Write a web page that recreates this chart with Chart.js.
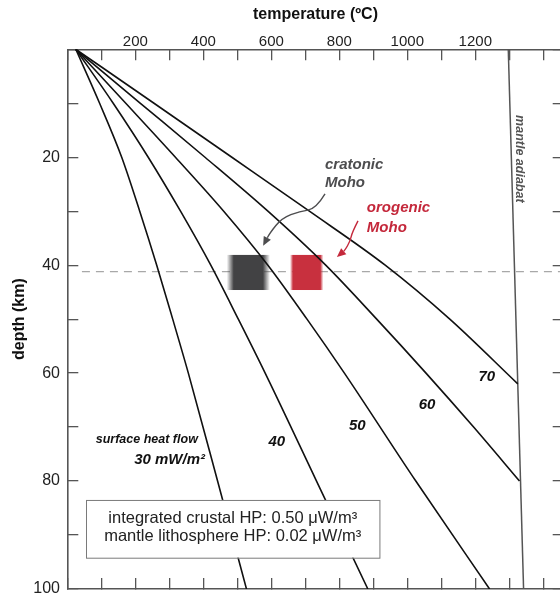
<!DOCTYPE html>
<html>
<head>
<meta charset="utf-8">
<script src="https://cdn.jsdelivr.net/npm/chart.js@4.4.1/dist/chart.umd.min.js"></script>
<style>
  html, body { margin: 0; padding: 0; background: #fff; overflow: hidden; width: 560px; height: 594px; }
  #wrap { position: absolute; left: 0; top: 0; width: 600px; height: 594px; }
</style>
</head>
<body>
<div id="wrap"><canvas id="c" width="600" height="594"></canvas></div>
<script>
// ---------------- data ----------------
const depthKm   = [0, 10, 20, 30, 40, 50, 60, 80, 100];
const hf30      = [25, 95, 160, 213, 263, 310, 356, 442, 527];
const hf40      = [25, 135, 238, 333, 422, 503, 582, 733, 884];
const hf50      = [25, 172, 318, 460, 590, 705, 815, 1025, 1242];
const hf60Depth = [0, 10, 20, 30, 40, 50, 60, 70, 80];
const hf60      = [25, 215, 405, 590, 760, 910, 1055, 1195, 1330];
const hf70Depth = [0, 10, 20, 30, 40, 50, 62];
const hf70      = [25, 255, 484, 712, 935, 1125, 1325];
const adiabatDepth = [0, 100];
const adiabatT     = [1297, 1342];

const tempTickLabels  = [200, 400, 600, 800, 1000, 1200];
const depthTickLabels = [20, 40, 60, 80, 100];

const mohoDepth = 41.2;
const cratonicMoho = [469, 596, 38.1, 44.6];   // Tmin, Tmax, dTop, dBottom
const orogenicMoho = [655, 753, 38.1, 44.6];

const curveLabels = [
  ['40', 616, 72.7], ['50', 853, 69.7], ['60', 1058, 65.8], ['70', 1234, 60.7]
];
const cratonicArrow = [[758, 26.8], [731, 29.6], [684, 30.0], [631, 31.3], [596, 34.0], [576, 36.4]];
const orogenicArrow = [[855, 31.8], [838, 33.9], [832, 35.5], [817, 37.2], [793, 38.5]];
const infoBox = [55, 918, 83.5, 94.2];
const infoLines = ['integrated crustal HP: 0.50 \u03BCW/m\u00B3', 'mantle lithosphere HP: 0.02 \u03BCW/m\u00B3'];

// ---------------- helpers ----------------
const FONT = '"Liberation Sans", Arial, sans-serif';
function toPts(ts, ds) { return ts.map((t, i) => ({ x: t, y: ds[i] })); }
function lineDs(ts, ds, color, w) {
  return { data: toPts(ts, ds), showLine: true, borderColor: color, borderWidth: w,
           pointRadius: 0, pointHoverRadius: 0, cubicInterpolationMode: 'monotone', fill: false };
}

const decor = {
  id: 'decor',
  beforeDatasetsDraw(chart) {
    const { ctx, chartArea: a } = chart;
    const X = v => chart.scales.x.getPixelForValue(v);
    const Y = v => chart.scales.y.getPixelForValue(v);
    ctx.save();
    ctx.beginPath(); ctx.rect(a.left, a.top, a.right - a.left, a.bottom - a.top); ctx.clip();
    // dashed Moho line
    ctx.strokeStyle = '#a8a8a8'; ctx.lineWidth = 1.2; ctx.setLineDash([8, 6]);
    ctx.beginPath(); ctx.moveTo(X(43), Y(mohoDepth)); ctx.lineTo(a.right, Y(mohoDepth)); ctx.stroke();
    ctx.setLineDash([]);
    // blurred boxes
    function fuzzyBox(b, rgb, fade) {
      const x0 = X(b[0]), x1 = X(b[1]), y0 = Y(b[2]), y1 = Y(b[3]);
      const g = ctx.createLinearGradient(x0, 0, x1, 0);
      const f = fade / (x1 - x0);
      g.addColorStop(0, 'rgba(' + rgb + ',0)');
      g.addColorStop(f, 'rgba(' + rgb + ',1)');
      g.addColorStop(1 - f, 'rgba(' + rgb + ',1)');
      g.addColorStop(1, 'rgba(' + rgb + ',0)');
      ctx.fillStyle = g; ctx.fillRect(x0, y0, x1 - x0, y1 - y0);
    }
    fuzzyBox(cratonicMoho, '66,66,68', 7);
    fuzzyBox(orogenicMoho, '200,48,62', 3);
    ctx.restore();
  },
  afterDatasetsDraw(chart) {
    const { ctx } = chart;
    const X = v => chart.scales.x.getPixelForValue(v);
    const Y = v => chart.scales.y.getPixelForValue(v);
    ctx.save();
    // info box
    const bx0 = X(infoBox[0]), bx1 = X(infoBox[1]), by0 = Y(infoBox[2]), by1 = Y(infoBox[3]);
    ctx.fillStyle = '#fff'; ctx.fillRect(bx0, by0, bx1 - bx0, by1 - by0);
    ctx.strokeStyle = '#7a7a7a'; ctx.lineWidth = 1; ctx.strokeRect(bx0 + 0.5, by0 + 0.5, bx1 - bx0, by1 - by0);
    ctx.fillStyle = '#222'; ctx.font = '16.5px ' + FONT; ctx.textAlign = 'center'; ctx.textBaseline = 'middle';
    ctx.fillText(infoLines[0], (bx0 + bx1) / 2, Y(86.9));
    ctx.fillText(infoLines[1], (bx0 + bx1) / 2, Y(90.3));

    // curve labels
    ctx.fillStyle = '#111';
    ctx.font = 'italic bold 15px ' + FONT; ctx.textAlign = 'center';
    curveLabels.forEach(l => ctx.fillText(l[0], X(l[1]), Y(l[2])));
    ctx.textAlign = 'right';
    ctx.font = 'italic bold 12.5px ' + FONT;
    ctx.fillText('surface heat flow', X(384), Y(72.4));
    ctx.font = 'italic bold 15px ' + FONT;
    ctx.fillText('30 mW/m\u00B2', X(405), Y(76.1));

    // Moho labels
    ctx.textAlign = 'left';
    ctx.fillStyle = '#4d4d4f';
    ctx.fillText('cratonic', X(758), Y(21.4));
    ctx.fillText('Moho', X(758), Y(24.8));
    ctx.fillStyle = '#c4283b';
    ctx.fillText('orogenic', X(881), Y(29.4));
    ctx.fillText('Moho', X(881), Y(33.05));

    // mantle adiabat label
    ctx.save();
    ctx.translate(X(1329), Y(20.3));
    ctx.rotate(Math.PI / 2);
    ctx.fillStyle = '#555';
    ctx.font = 'italic bold 12.5px ' + FONT; ctx.textAlign = 'center';
    ctx.fillText('mantle adiabat', 0, 0);
    ctx.restore();

    // arrows
    function arrow(pts, color) {
      const p = pts.map(q => [X(q[0]), Y(q[1])]);
      ctx.strokeStyle = color; ctx.fillStyle = color; ctx.lineWidth = 1.4;
      const n = p.length;
      const tip = p[n - 1], prev = p[n - 2];
      const ang = Math.atan2(tip[1] - prev[1], tip[0] - prev[0]);
      const L = 9, W = 4;
      const base = [tip[0] - L * Math.cos(ang), tip[1] - L * Math.sin(ang)];
      ctx.beginPath();
      ctx.moveTo(p[0][0], p[0][1]);
      for (let i = 1; i < n - 2; i++) {
        const mx = (p[i][0] + p[i + 1][0]) / 2, my = (p[i][1] + p[i + 1][1]) / 2;
        ctx.quadraticCurveTo(p[i][0], p[i][1], mx, my);
      }
      ctx.quadraticCurveTo(p[n - 2][0], p[n - 2][1], base[0], base[1]);
      ctx.stroke();
      ctx.beginPath();
      ctx.moveTo(tip[0], tip[1]);
      ctx.lineTo(base[0] + W * Math.sin(ang), base[1] - W * Math.cos(ang));
      ctx.lineTo(base[0] - W * Math.sin(ang), base[1] + W * Math.cos(ang));
      ctx.closePath(); ctx.fill();
    }
    arrow(cratonicArrow, '#4d4d4f');
    arrow(orogenicArrow, '#c4283b');
    ctx.restore();
  }
};

const axisColor = '#555';
function inwardGrid() {
  return { drawOnChartArea: false, drawTicks: true, tickLength: -11, color: axisColor, lineWidth: 1.3 };
}
function border() { return { display: true, color: axisColor, width: 1.6 }; }
function noPad(s) { s.paddingTop = 0; s.paddingBottom = 0; s.paddingLeft = 0; s.paddingRight = 0; }

new Chart(document.getElementById('c'), {
  type: 'scatter',
  data: {
    datasets: [
      lineDs(hf30, depthKm, '#111', 1.6),
      lineDs(hf40, depthKm, '#111', 1.6),
      lineDs(hf50, depthKm, '#111', 1.6),
      lineDs(hf60, hf60Depth, '#111', 1.6),
      lineDs(hf70, hf70Depth, '#111', 1.6),
      Object.assign(lineDs(adiabatT, adiabatDepth, '#555', 1.5), { cubicInterpolationMode: 'default', tension: 0 })
    ]
  },
  options: {
    responsive: false,
    animation: false,
    events: [],
    layout: { padding: 0 },
    plugins: { legend: { display: false }, tooltip: { enabled: false } },
    scales: {
      x: {
        type: 'linear', position: 'top', min: 0, max: 1460,
        border: border(), grid: inwardGrid(),
        ticks: { stepSize: 100, includeBounds: false, padding: 9.5, color: '#222', maxRotation: 0, autoSkip: false,
                 font: { family: FONT, size: 15 },
                 callback: v => tempTickLabels.includes(v) ? String(v) : '' },
        title: { display: true, text: 'temperature (\u00BAC)', color: '#111',
                 font: { family: FONT, size: 16, weight: 'bold' }, padding: { top: 5.4, bottom: 0 } },
        afterFit: s => { s.height = 49.3; noPad(s); }
      },
      x2: {
        type: 'linear', axis: 'x', position: 'bottom', min: 0, max: 1460,
        border: border(), grid: inwardGrid(),
        ticks: { stepSize: 100, includeBounds: false, display: false },
        afterFit: s => { s.height = 5; noPad(s); }
      },
      y: {
        type: 'linear', position: 'left', min: 0, max: 100, reverse: true,
        border: border(), grid: inwardGrid(),
        ticks: { stepSize: 10, includeBounds: false, padding: 18.3, color: '#222', autoSkip: false,
                 font: { family: FONT, size: 16 },
                 callback: v => depthTickLabels.includes(v) ? String(v) : '' },
        title: { display: true, text: 'depth (km)', color: '#111',
                 font: { family: FONT, size: 16, weight: 'bold' }, padding: { top: 9.5, bottom: 0 } },
        afterFit: s => { s.width = 67.3; noPad(s); }
      },
      y2: {
        type: 'linear', axis: 'y', position: 'right', min: 0, max: 100, reverse: true,
        border: border(), grid: inwardGrid(),
        ticks: { stepSize: 10, includeBounds: false, display: false },
        afterFit: s => { s.width = 600 - 563.7; noPad(s); }
      }
    }
  },
  plugins: [decor]
});
</script>
</body>
</html>
